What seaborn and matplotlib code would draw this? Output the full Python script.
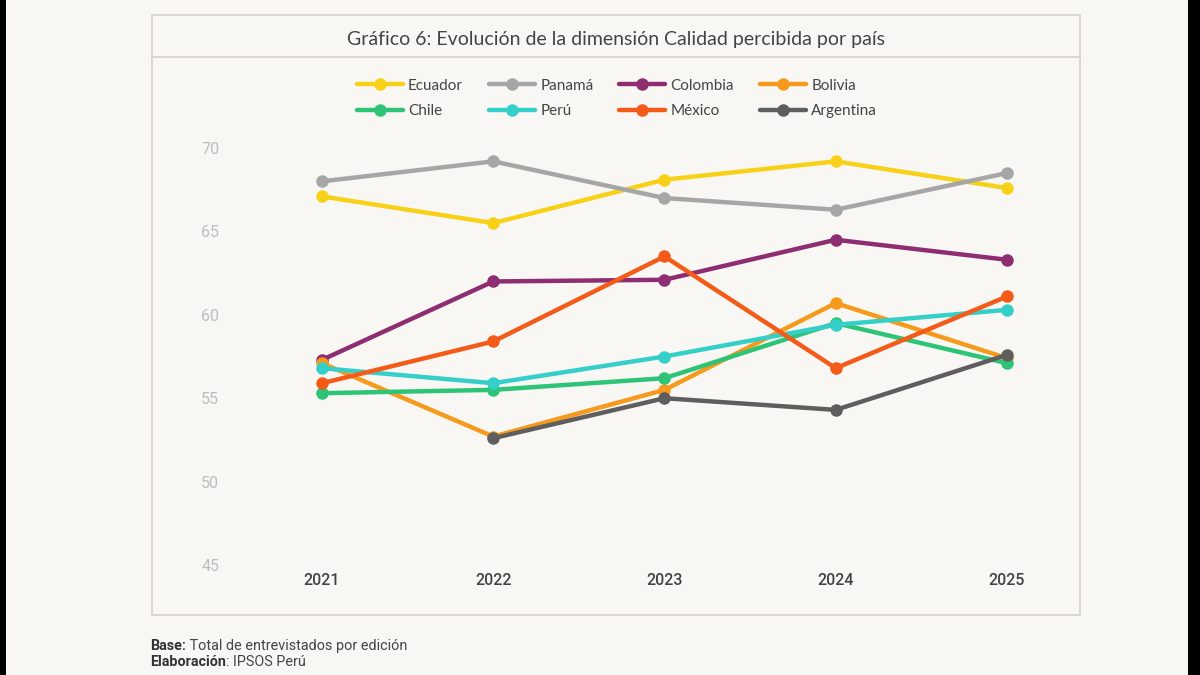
import pandas as pd
import numpy as np
import matplotlib
matplotlib.use("Agg")
import matplotlib.pyplot as plt
import seaborn as sns
from matplotlib.patches import Rectangle
from matplotlib.lines import Line2D

# datos
years = [2021, 2022, 2023, 2024, 2025]
ecuador = [67.1, 65.5, 68.1, 69.2, 67.6]
panama = [68.0, 69.2, 67.0, 66.3, 68.5]
colombia = [57.3, 62.0, 62.1, 64.5, 63.3]
bolivia = [57.1, 52.7, 55.5, 60.7, 57.4]
chile = [55.3, 55.5, 56.2, 59.5, 57.1]
peru = [56.8, 55.9, 57.5, 59.4, 60.3]
mexico = [55.9, 58.4, 63.5, 56.8, 61.1]
argentina = [np.nan, 52.6, 55.0, 54.3, 57.6]

countries = ["Ecuador", "Panamá", "Colombia", "Bolivia",
             "Chile", "Perú", "México", "Argentina"]
series = [ecuador, panama, colombia, bolivia, chile, peru, mexico, argentina]
colors = ["#F7D117", "#A6A6A6", "#8E2D72", "#F59A1C",
          "#2EC477", "#35CFC9", "#F45A18", "#5E5E5E"]
palette = dict(zip(countries, colors))

df = pd.DataFrame({
    "year": np.tile(years, len(countries)),
    "pais": np.repeat(countries, len(years)),
    "valor": np.concatenate(series),
}).dropna()

bg = "#F9F7F3"
txt = "#444444"
sns.set_style("white")
plt.rcParams["font.family"] = ["Roboto", "DejaVu Sans"]
lato = ["Lato", "DejaVu Sans"]

fig = plt.figure(figsize=(12, 6.75), dpi=100, facecolor=bg)

# franjas negras laterales
fig.add_artist(Rectangle((0, 0), 6 / 1200, 1, transform=fig.transFigure,
                         facecolor="black", edgecolor="none"))
fig.add_artist(Rectangle((1 - 12 / 1200, 0), 12 / 1200, 1, transform=fig.transFigure,
                         facecolor="black", edgecolor="none"))

# marco del grafico
fig.add_artist(Rectangle((152 / 1200, 1 - 615 / 675), 928 / 1200, 600 / 675,
                         transform=fig.transFigure, facecolor="none",
                         edgecolor="#D8D5D1", linewidth=1.3))
fig.add_artist(Line2D([152 / 1200, 1080 / 1200], [1 - 57 / 675, 1 - 57 / 675],
                      transform=fig.transFigure, color="#D8D5D1", linewidth=1.3))
fig.text(616 / 1200, 1 - 40 / 675,
         "Gráfico 6: Evolución de la dimensión Calidad percibida por país",
         ha="center", va="center", fontsize=14, color=txt, family=lato)

ax = fig.add_axes([240 / 1200, 1 - 566 / 675, 830 / 1200, 435 / 675])
ax.set_facecolor("none")
sns.lineplot(data=df, x="year", y="valor", hue="pais", hue_order=countries,
             palette=palette, marker="o", markersize=9, markeredgewidth=0,
             linewidth=3.2, ax=ax, legend=False)

ax.set_xlim(2021 - 82 / 171.25, 2025 + 63 / 171.25)
ax.set_ylim(44.94, 71.02)
ax.set_xticks(years)
ax.set_xticklabels([str(y) for y in years])
ax.set_yticks([45, 50, 55, 60, 65, 70])
ax.set_xlabel("")
ax.set_ylabel("")
for s in ax.spines.values():
    s.set_visible(False)
ax.tick_params(axis="x", length=0, pad=5, labelsize=11.5, labelcolor=txt)
ax.tick_params(axis="y", length=0, pad=15, labelsize=11.5, labelcolor="#BDBDBD")
for t in ax.get_xticklabels():
    t.set_fontweight("medium")

# leyenda en filas (matplotlib rellena por columnas)
order = [0, 4, 1, 5, 2, 6, 3, 7]
handles = [Line2D([0], [0], color=colors[i], marker="o", markersize=9, linewidth=3.2,
                  markeredgewidth=0) for i in order]
labels = [countries[i] for i in order]
fig.legend(handles, labels, ncol=4, loc="center", bbox_to_anchor=(617 / 1200, 1 - 98.5 / 675),
           frameon=False, handlelength=3.0, columnspacing=1.7, handletextpad=0.35,
           labelspacing=0.75, prop={"family": lato, "size": 11},
           labelcolor=txt)

# pie de grafico
fig.canvas.draw()
rend = fig.canvas.get_renderer()
for y, bold, rest in [(646, "Base:", " Total de entrevistados por edición"),
                      (662, "Elaboración", ": IPSOS Perú")]:
    b = fig.text(150 / 1200, 1 - y / 675, bold, fontsize=10.4, color="#333333",
                 va="center", fontweight="bold")
    w = b.get_window_extent(rend).width
    fig.text((150 + w) / 1200, 1 - y / 675, rest, fontsize=10.4, color=txt, va="center")

fig.savefig("out.png", dpi=100, facecolor=bg)
